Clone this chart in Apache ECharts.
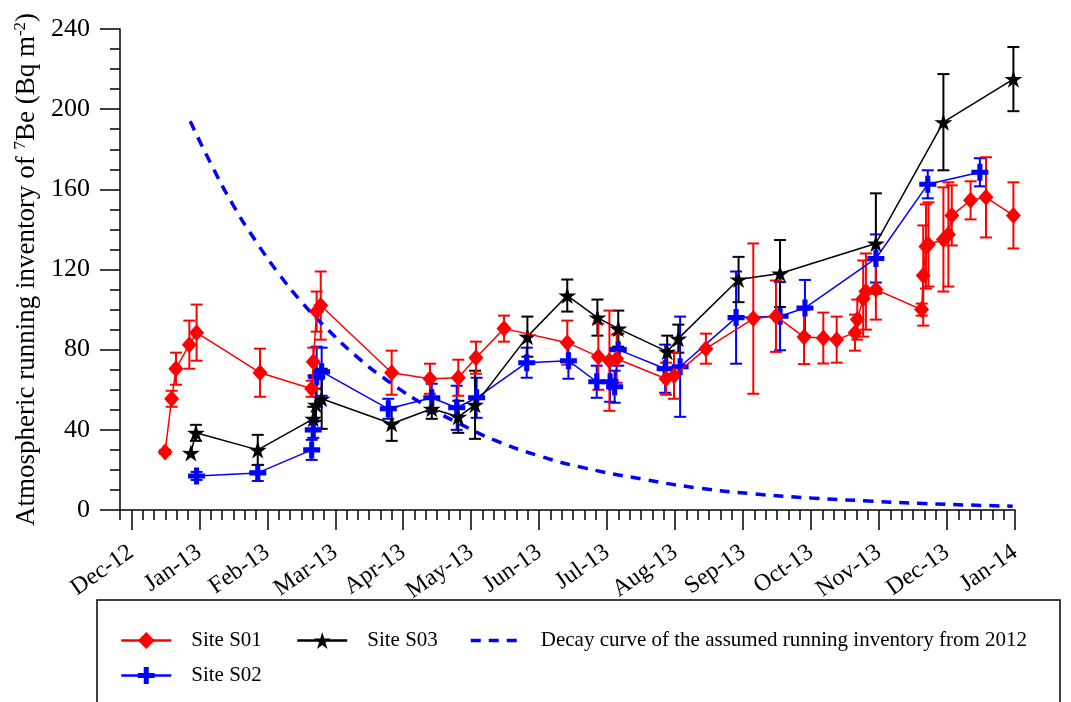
<!DOCTYPE html>
<html><head><meta charset="utf-8">
<script src="https://cdn.jsdelivr.net/npm/echarts@6/dist/echarts.min.js"></script>
<style>html,body{margin:0;padding:0;background:#fff}#c{width:1071px;height:702px}</style>
</head><body><div id="c"></div>
<script>
// x positions are days counted from the "Dec-12" tick of the axis (ticks every 30 days)
const monthLabels = ['Dec-12','Jan-13','Feb-13','Mar-13','Apr-13','May-13','Jun-13','Jul-13','Aug-13','Sep-13','Oct-13','Nov-13','Dec-13','Jan-14'];

const s01Days   = [14.9,17.8,19.7,25.6,28.8,56.8,79.6,80.3,81.8,83.6,114.9,131.8,144.3,152.1,164.5,192.4,206.1,211,214.2,236,239.5,253.6,274.5,284.5,296.9,305.4,311.3,319.4,320.4,323,324.2,328.6,348.8,349.5,350.7,351.8,358.4,360.6,362.1,370.4,377.2,389.3];
const s01Values = [29,55.5,70.5,82.5,88.5,68.5,60.5,74,99,102,68.5,65.5,66,76,90.5,83.5,76.5,74.5,75.5,65.5,67,80.5,95.5,96.7,86.3,85.8,85,88.5,95,105.5,109,110,100,117,131.5,132.5,135,137.5,147,154.5,156,147];
const s01Errors = [1,4,8,12,14,12,4,7,10,17,11,7.5,9,8,6.5,11,16.5,25,12,8,11.5,7.5,37.5,17.8,13.5,12.7,11.5,9,10,19,19,15,3,25,21,21,26,26,15,9.5,20,16.5];

const s02Days   = [28.8,55.8,79.6,80.3,81.8,84,113.4,132.6,143.6,152.4,174.5,192.9,205.4,211.3,213.3,214.9,235.6,242.2,266.9,286.3,297.3,328.6,351.5,374.5];
const s02Values = [17,18.5,30,40,66.5,69,50.5,56,51,56,73.5,74.5,64,64,61.5,80,70.5,71.5,96,96.7,100.8,125.5,162.5,168.5];
const s02Errors = [2,4,5,4,15,12,5,7,11,10,7.5,9,8,10,8,8,12,25,23,17,14,12,7,7];

const s03Days   = [26.3,28.5,55.8,80.3,81.5,84,114.9,132.6,144.3,151.7,174.8,192.4,205.7,214.9,236.5,241.4,268,286.3,328.6,358.4,389.3];
const s03Values = [28.5,38.5,30,45.5,52.5,55.5,43,50.5,46.5,52.5,86.5,107,96,90.5,79,85.5,115,118,133,193.5,215];
const s03Errors = [0,4,7.5,6,8,15,8.5,5,8,17,10,8,9,9,8,7,11.3,16.7,25,24,16];

const decayDays   = [26,35,45,55,65,75,85,100,115,130,145,160,180,200,225,250,275,300,325,350,375,389];
const decayValues = [194,173,152,134,118,104,92,76,63,52,43,35,27,21,15.5,11,8,6,4.5,3.2,2.3,1.9];

const FONT = 'Liberation Serif';
const W = 1071, H = 702;
const plotLeft = 120, plotRight = 1015, plotTop = 29, plotBottom = 510;
const dayMin = -5, dayMax = 390;
const grid1Left = plotLeft + (0 - dayMin) * (plotRight - plotLeft) / (dayMax - dayMin);

const PLUS = 'path://M-1.5,-5 L1.5,-5 L1.5,-1.5 L5,-1.5 L5,1.5 L1.5,1.5 L1.5,5 L-1.5,5 L-1.5,1.5 L-5,1.5 L-5,-1.5 L-1.5,-1.5 Z';
const STAR = 'path://M0,-50 L11.17,-15.37 L47.55,-15.45 L18.07,5.87 L29.39,40.45 L0,19 L-29.39,40.45 L-18.07,5.87 L-47.55,-15.45 L-11.17,-15.37 Z';

function pts(days, vals) { return days.map((d, i) => [d, vals[i]]); }
function errs(days, vals, e) { return days.map((d, i) => [d, vals[i] - e[i], vals[i] + e[i]]); }
function errSeries(name, data, color, z) {
  return {
    type: 'custom', name: name + ' err', xAxisIndex: 0, yAxisIndex: 0, z: z, silent: true,
    encode: { x: 0, y: [1, 2] }, data: data,
    renderItem: function (params, api) {
      const x = api.value(0), lo = api.value(1), hi = api.value(2);
      if (!(hi - lo > 0)) return { type: 'group', children: [] };
      const t = api.coord([x, hi]), b = api.coord([x, lo]);
      const hw = 6, st = { stroke: color, lineWidth: 2 };
      return { type: 'group', children: [
        { type: 'line', shape: { x1: t[0], y1: t[1], x2: b[0], y2: b[1] }, style: st },
        { type: 'line', shape: { x1: t[0] - hw, y1: t[1], x2: t[0] + hw, y2: t[1] }, style: st },
        { type: 'line', shape: { x1: b[0] - hw, y1: b[1], x2: b[0] + hw, y2: b[1] }, style: st }
      ]};
    }
  };
}

const legendText = { fontFamily: FONT, fontSize: 21, color: '#000', padding: [0, 0, 0, 15] };
function legend(name, left, top, extra) {
  return Object.assign({ data: [name], left: left, top: top, padding: 0, itemWidth: 50, itemHeight: 21,
    textStyle: legendText, selectedMode: false, lineStyle: { width: 2.5 } }, extra || {});
}

const chart = echarts.init(document.getElementById('c'), null, { renderer: 'canvas' });
chart.setOption({
  animation: false,
  backgroundColor: '#fff',
  grid: [
    { left: plotLeft, right: W - plotRight, top: plotTop, bottom: H - plotBottom },
    { left: grid1Left, right: W - plotRight, top: plotTop, bottom: H - plotBottom }
  ],
  xAxis: [
    { type: 'value', gridIndex: 0, min: dayMin, max: dayMax, interval: 5,
      axisLine: { onZero: false, lineStyle: { color: '#000', width: 1.5 } },
      axisTick: { length: 10, lineStyle: { color: '#000', width: 1.5 } },
      axisLabel: { show: false }, splitLine: { show: false } },
    { type: 'value', gridIndex: 1, min: 0, max: 390, interval: 30,
      axisLine: { show: false, onZero: false },
      axisTick: { length: 20, lineStyle: { color: '#000', width: 1.5 } },
      axisLabel: { rotate: 35, margin: 40, fontFamily: FONT, fontSize: 24, color: '#000',
        formatter: v => monthLabels[Math.round(v / 30)] || '' },
      splitLine: { show: false } }
  ],
  yAxis: [
    { type: 'value', gridIndex: 0, min: 0, max: 240, interval: 40,
      axisLine: { show: true, onZero: false, lineStyle: { color: '#000', width: 1.5 } },
      axisTick: { show: true, length: 20, lineStyle: { color: '#000', width: 1.5 } },
      minorTick: { show: true, splitNumber: 4, length: 10, lineStyle: { color: '#000', width: 1.5 } },
      axisLabel: { margin: 30, fontFamily: FONT, fontSize: 26, color: '#000' },
      splitLine: { show: false },
      name: 'Atmospheric running inventory of {sup|7}Be (Bq m{sup|-2})',
      nameLocation: 'middle', nameGap: 76, nameRotate: 90,
      nameTextStyle: { fontFamily: FONT, fontSize: 27, color: '#000',
        rich: { sup: { fontFamily: FONT, fontSize: 17, color: '#000', padding: [0, 0, 13, 0] } } } },
    { type: 'value', gridIndex: 1, min: 0, max: 240, show: false }
  ],
  legend: [
    legend('Site S01', 120, 630),
    legend('Site S02', 120, 665),
    legend('Site S03', 296, 630),
    legend('Decay curve of the assumed running inventory from 2012', 469, 630,
      { itemStyle: { opacity: 0, borderWidth: 0 }, lineStyle: { width: 3.5 } })
  ],
  graphic: [
    { type: 'rect', silent: true, shape: { x: 97, y: 600, width: 963, height: 130 },
      style: { fill: 'none', stroke: '#000', lineWidth: 1.5 } }
  ],
  series: [
    errSeries('Site S02', errs(s02Days, s02Values, s02Errors), '#0000ff', 2),
    errSeries('Site S03', errs(s03Days, s03Values, s03Errors), '#000000', 2),
    errSeries('Site S01', errs(s01Days, s01Values, s01Errors), '#ff0000', 2),
    { type: 'line', name: 'Decay curve of the assumed running inventory from 2012', xAxisIndex: 0, yAxisIndex: 0,
      data: pts(decayDays, decayValues), smooth: true, symbol: 'none', z: 3,
      lineStyle: { color: '#0000ff', width: 3.5, type: [10, 8] }, itemStyle: { color: '#0000ff' } },
    { type: 'line', name: 'Site S02', xAxisIndex: 0, yAxisIndex: 0, data: pts(s02Days, s02Values),
      symbol: PLUS, symbolSize: 17, z: 4,
      lineStyle: { color: '#0000ff', width: 1.5 }, itemStyle: { color: '#0000ff' } },
    { type: 'line', name: 'Site S03', xAxisIndex: 0, yAxisIndex: 0, data: pts(s03Days, s03Values),
      symbol: STAR, symbolSize: 18, symbolKeepAspect: true, z: 4,
      lineStyle: { color: '#000000', width: 1.5 }, itemStyle: { color: '#000000' } },
    { type: 'line', name: 'Site S01', xAxisIndex: 0, yAxisIndex: 0, data: pts(s01Days, s01Values),
      symbol: 'diamond', symbolSize: [15, 17], z: 5,
      lineStyle: { color: '#ff0000', width: 1.5 }, itemStyle: { color: '#ff0000' } }
  ]
});
</script></body></html>
